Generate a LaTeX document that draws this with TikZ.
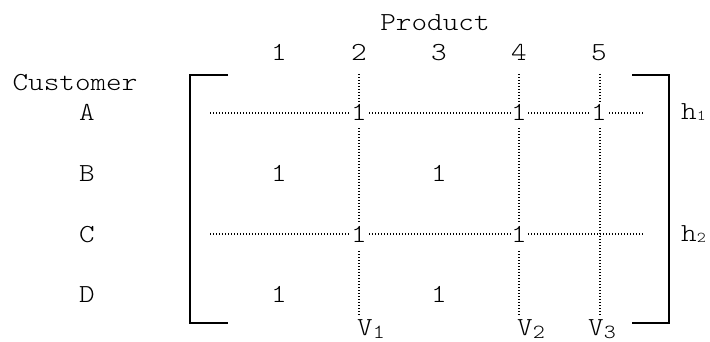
\documentclass[tikz,border=0pt]{standalone}
\usepackage{fontspec}
\newfontfamily\courfont{Latin Modern Mono Light}[FakeStretch=1.143]
\begin{document}
\begin{tikzpicture}[x=1pt,y=-1pt,
  txt/.style={inner sep=0pt, anchor=base, font=\courfont\fontsize{26}{30}\selectfont},
  entry/.style={txt, fill=white, text height=19pt, text depth=7pt},
  bracket/.style={line width=2pt},
  grid/.style={line width=1.1pt, dash pattern=on 1pt off 2pt}]
\useasboundingbox (0,0) rectangle (710,342);
\newcommand{\hsub}[1]{{\fontsize{15}{15}\selectfont\raisebox{-1pt}{#1}}}
\newcommand{\vsub}[1]{{\fontsize{20}{20}\selectfont\raisebox{-3pt}{#1}}}
% headers
\node[txt] (product) at (435,31) {Product};
\node[txt] (c1) at (279,61) {1};
\node[txt] (c2) at (359,61) {2};
\node[txt] (c3) at (439,61) {3};
\node[txt] (c4) at (519,61) {4};
\node[txt] (c5) at (599,61) {5};
\node[txt] (customer) at (75,91) {Customer};
\node[txt] (rA) at (87,121) {A};
\node[txt] (rB) at (87,181.5) {B};
\node[txt] (rC) at (87,242) {C};
\node[txt] (rD) at (87,302.5) {D};
% brackets
\draw[bracket] (228,75) -- (190,75) -- (190,323) -- (228,323);
\draw[bracket] (632,75) -- (669,75) -- (669,323) -- (632,323);
% grid coordinates
\coordinate (hAl) at (210,113);
\coordinate (hAr) at (643,113);
\coordinate (hCl) at (210,234);
\coordinate (hCr) at (643,234);
\coordinate (v1t) at (359,74);
\coordinate (v1b) at (359,315);
\coordinate (v2t) at (519,74);
\coordinate (v2b) at (519,315);
\coordinate (v3t) at (600,74);
\coordinate (v3b) at (600,315);
\draw[grid] (hAl) -- (hAr);
\draw[grid] (hCl) -- (hCr);
\draw[grid] (v1t) -- (v1b);
\draw[grid] (v2t) -- (v2b);
\draw[grid] (v3t) -- (v3b);
% entries
\node[entry] (A2) at (359,121) {1};
\node[entry] (A4) at (519,121) {1};
\node[entry] (A5) at (599,121) {1};
\node[entry] (B1) at (279,181.5) {1};
\node[entry] (B3) at (439,181.5) {1};
\node[entry] (C2) at (359,242) {1};
\node[entry] (C4) at (519,242) {1};
\node[entry] (D1) at (279,302.5) {1};
\node[entry] (D3) at (439,302.5) {1};
% line labels
\node[txt, anchor=base west] (h1) at (681,120) {h\hsub{1}};
\node[txt, anchor=base west] (h2) at (681,241) {h\hsub{2}};
\node[txt, anchor=base west] (V1) at (357,335) {V\vsub{1}};
\node[txt, anchor=base west] (V2) at (517,335) {V\vsub{2}};
\node[txt, anchor=base west] (V3) at (588,335) {V\vsub{3}};
\end{tikzpicture}
\end{document}
